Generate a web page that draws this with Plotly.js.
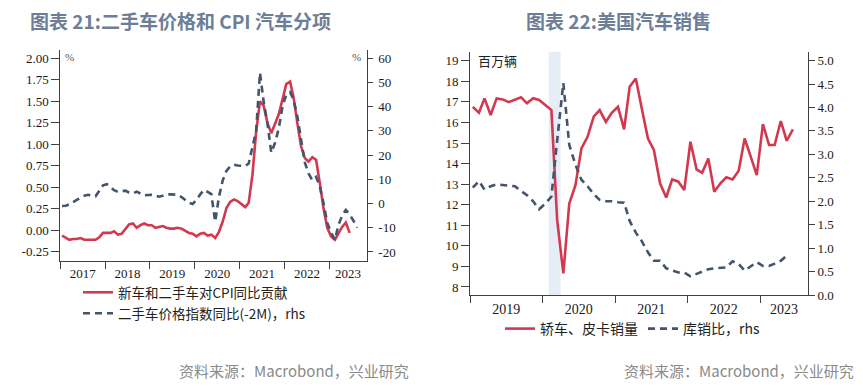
<!DOCTYPE html>
<html>
<head>
<meta charset="utf-8">
<script src="https://cdn.plot.ly/plotly-3.0.1.min.js"></script>
<style>
html,body{margin:0;padding:0;background:#fff;}
#chart{width:863px;height:387px;}
</style>
</head>
<body>
<div id="chart"></div>
<script>
// ---------- Data: chart 21 (monthly, from 2017-01) ----------
var cpiStartMonth = '2017-01';
var cpiContrib = [
  -0.06,-0.09,-0.11,-0.10,-0.10,-0.09,-0.11,-0.11,-0.11,-0.11,-0.08,-0.03,
  -0.03,-0.03,-0.01,-0.05,-0.04,0.02,0.07,0.08,0.03,0.06,0.08,0.06,
  0.06,0.03,0.04,0.05,0.03,0.02,0.02,0.03,0.02,0.00,-0.03,-0.04,
  -0.07,-0.04,-0.03,-0.06,-0.05,-0.09,-0.02,0.10,0.26,0.33,0.36,0.34,
  0.30,0.27,0.32,0.65,1.15,1.50,1.45,1.25,1.13,1.23,1.35,1.52,
  1.70,1.73,1.55,1.25,0.98,0.84,0.80,0.85,0.82,0.55,0.25,0.03,
  -0.07,-0.11,-0.03,0.04,0.09,-0.03
];
var usedCarYoY = [
  -1.0,-0.9,-0.3,0.8,1.5,2.4,3.2,3.6,3.2,3.0,5.3,7.5,
  8.0,6.8,5.5,4.8,5.2,5.3,4.6,4.2,4.9,4.2,3.4,3.5,
  3.6,3.3,2.8,3.2,3.8,3.8,3.8,3.6,2.7,1.5,0.3,-0.2,
  1.5,3.8,5.6,4.8,3.9,-7.5,2.5,9.5,13.5,15.3,16.0,15.7,
  15.7,15.5,16.5,23,30,54,42,33,21,25,31,40,
  45,46,43,36,27,17,12.5,9.6,11,7,0,-8,
  -12,-15,-9,-5,-2.6,-4.5,-7,-10
];
var cpiYears = ['2017','2018','2019','2020','2021','2022','2023'];
var cpiLeftTicks = [-0.25,0,0.25,0.5,0.75,1,1.25,1.5,1.75,2];
var cpiRightTicks = [-20,-10,0,10,20,30,40,50,60];

// ---------- Data: chart 22 (monthly, from 2019-01) ----------
var salesStartMonth = '2019-01';
var carSales = [
  16.76,16.47,17.17,16.36,17.17,17.12,16.99,17.09,17.22,16.93,17.18,17.09,
  16.84,16.6,11.25,8.66,12.06,12.95,14.74,15.3,16.28,16.6,16.03,16.47,
  16.76,15.66,17.74,18.14,16.68,15.22,14.66,13.04,12.35,13.23,13.12,12.71,
  15.06,13.72,13.55,14.25,12.63,13.04,13.33,13.23,13.65,15.22,14.33,13.44,
  15.92,14.9,14.9,16.07,15.11,15.66
];
var invSalesRatio = [
  2.29,2.43,2.25,2.32,2.36,2.35,2.34,2.32,2.22,2.13,2.0,1.83,
  1.95,2.1,3.3,4.52,3.2,2.78,2.46,2.32,2.15,2.03,2.0,2.0,
  1.98,1.97,1.58,1.33,1.15,0.91,0.73,0.73,0.57,0.52,0.48,0.48,
  0.4,0.45,0.5,0.55,0.57,0.58,0.59,0.72,0.66,0.52,0.62,0.7,
  0.62,0.62,0.67,0.73,0.84
];
var salesYears = ['2019','2020','2021','2022','2023'];
var salesLeftTicks = [8,9,10,11,12,13,14,15,16,17,18,19];
var salesRightTicks = [0,0.5,1,1.5,2,2.5,3,3.5,4,4.5,5];
var recession = ['2020-02-01','2020-04-01'];

// ---------- helpers ----------
function monthDates(start, n){
  var p = start.split('-'); var y = +p[0], m = +p[1]; var out = [];
  for (var i=0;i<n;i++){
    var yy = y + Math.floor((m-1+i)/12), mm = ((m-1+i)%12)+1;
    out.push(yy + '-' + (mm<10?'0':'') + mm + '-15');
  }
  return out;
}
function midYearTicks(years, rangeEnd){
  return years.map(function(y){
    var a = Date.UTC(+y,0,1), b = Date.UTC(+y+1,0,1);
    var e = Date.parse(rangeEnd + 'T00:00:00Z');
    if (b > e) b = e;
    return new Date((a+b)/2).toISOString().slice(0,10);
  });
}

var W = 863, H = 387;
function px(x){ return x/W; }
function py(y){ return 1 - y/H; }

var RED = '#d2394f', NAVY = '#44546a', AX = '#404040';
var serif = 'Liberation Serif, Times New Roman, serif';
var cjk = 'Noto Sans CJK SC, sans-serif';

var xr1 = ['2017-01-01','2023-11-01'];
var xr2 = ['2019-01-01','2023-08-30'];

var traces = [
  {x: monthDates(cpiStartMonth, cpiContrib.length), y: cpiContrib, xaxis:'x', yaxis:'y',
   type:'scatter', mode:'lines', name:'新车和二手车对CPI同比贡献', legend:'legend',
   line:{color:RED, width:2.6}},
  {x: monthDates(cpiStartMonth, usedCarYoY.length), y: usedCarYoY, xaxis:'x', yaxis:'y2',
   type:'scatter', mode:'lines', name:'二手车价格指数同比(-2M)，rhs', legend:'legend2',
   line:{color:NAVY, width:2.6, dash:'7px,5px'}},
  {x: monthDates(salesStartMonth, carSales.length), y: carSales, xaxis:'x2', yaxis:'y3',
   type:'scatter', mode:'lines', name:'轿车、皮卡销量', legend:'legend3',
   line:{color:RED, width:2.6}},
  {x: monthDates(salesStartMonth, invSalesRatio.length), y: invSalesRatio, xaxis:'x2', yaxis:'y4',
   type:'scatter', mode:'lines', name:'库销比，rhs', legend:'legend4',
   line:{color:NAVY, width:2.6, dash:'7px,5px'}}
];

function fmt(v, d){ return v.toFixed(d); }

var baseAxis = {showgrid:false, zeroline:false, showline:true, linecolor:AX, linewidth:1,
  tickcolor:AX, tickfont:{family:serif, size:13, color:'#1a1a1a'}};

function xAxis(domain, anchor, range, years, tick0, fsize, standoff){
  return Object.assign({}, baseAxis, {
    domain: domain, anchor: anchor, type:'date', range: range,
    tickmode:'array', tickvals: midYearTicks(years, range[1]), ticktext: years, ticks:'',
    tickfont:{family:serif, size:fsize, color:'#1a1a1a'}, ticklabelstandoff: standoff,
    minor:{ticks:'outside', ticklen:7, tickcolor:AX, tickwidth:1, dtick:'M12', tick0:tick0, showgrid:false}
  });
}
function yAxis(domain, anchor, range, vals, dec, side, overlay, ticklen, standoff){
  var a = Object.assign({}, baseAxis, {
    domain: domain, anchor: anchor, range: range, side: side,
    tickmode:'array', tickvals: vals, ticktext: vals.map(function(v){return fmt(v,dec);}),
    ticks:'outside', ticklen: ticklen, ticklabelstandoff: standoff || 0
  });
  if (overlay) a.overlaying = overlay;
  return a;
}

var d1x = [px(60.3), px(366.7)], d1y = [py(260.7), py(50)];
var d2x = [px(470), px(808)],    d2y = [py(295), py(51.7)];

function leg(x, y, size){
  return {x:x, y:y, xanchor:'left', yanchor:'middle', orientation:'h',
    bgcolor:'rgba(0,0,0,0)', borderwidth:0,
    font:{family:cjk, size:size, color:'#222'}};
}

var layout = {
  width: W, height: H,
  margin:{l:0,r:0,t:0,b:0,pad:0},
  paper_bgcolor:'#fff', plot_bgcolor:'#fff',
  showlegend:true,
  xaxis: xAxis(d1x, 'y', xr1, cpiYears, '2017-01-01', 13, 1),
  yaxis: yAxis(d1y, 'x', [-0.353, 2.097], cpiLeftTicks, 2, 'left', null, 8),
  yaxis2: yAxis(d1y, 'x', [-23.6, 63.4], cpiRightTicks, 0, 'right', 'y', 5, 3),
  xaxis2: xAxis(d2x, 'y3', xr2, salesYears, '2019-01-01', 14, 1),
  yaxis3: yAxis(d2y, 'x2', [7.61, 19.44], salesLeftTicks, 0, 'left', null, 8),
  yaxis4: yAxis(d2y, 'x2', [0, 5.19], salesRightTicks, 1, 'right', 'y3', 6),
  legend: leg(px(78), py(292.5), 13.5),
  legend2: leg(px(78), py(313.5), 13.5),
  legend3: leg(px(500), py(329), 14),
  legend4: leg(px(643), py(329), 14),
  shapes: [
    {type:'rect', xref:'x2', yref:'y3 domain', x0:recession[0], x1:recession[1], y0:0, y1:1,
     fillcolor:'#e6edf7', line:{width:0}, layer:'below'}
  ],
  annotations: [
    {xref:'paper', yref:'paper', x:px(28), y:py(20), xanchor:'left', yanchor:'middle', showarrow:false,
     text:'图表 21:二手车价格和 CPI 汽车分项', font:{family:cjk, size:19, color:'#6d7e97', weight:700}},
    {xref:'paper', yref:'paper', x:px(524), y:py(20), xanchor:'left', yanchor:'middle', showarrow:false,
     text:'图表 22:美国汽车销售', font:{family:cjk, size:19, color:'#6d7e97', weight:700}},
    {xref:'paper', yref:'paper', x:px(69), y:py(57), xanchor:'center', yanchor:'middle', showarrow:false,
     text:'%', font:{family:serif, size:11, color:'#555'}},
    {xref:'paper', yref:'paper', x:px(356), y:py(57), xanchor:'center', yanchor:'middle', showarrow:false,
     text:'%', font:{family:serif, size:11, color:'#555'}},
    {xref:'paper', yref:'paper', x:px(476), y:py(60), xanchor:'left', yanchor:'middle', showarrow:false,
     text:'百万辆', font:{family:cjk, size:13, color:'#222'}},
    {xref:'paper', yref:'paper', x:px(411), y:py(370), xanchor:'right', yanchor:'middle', showarrow:false,
     text:'资料来源：Macrobond，兴业研究', font:{family:cjk, size:15, color:'#8a8a8a'}},
    {xref:'paper', yref:'paper', x:px(856), y:py(370), xanchor:'right', yanchor:'middle', showarrow:false,
     text:'资料来源：Macrobond，兴业研究', font:{family:cjk, size:15, color:'#8a8a8a'}}
  ]
};

Plotly.newPlot('chart', traces, layout, {staticPlot:true, displayModeBar:false});
</script>
</body>
</html>
